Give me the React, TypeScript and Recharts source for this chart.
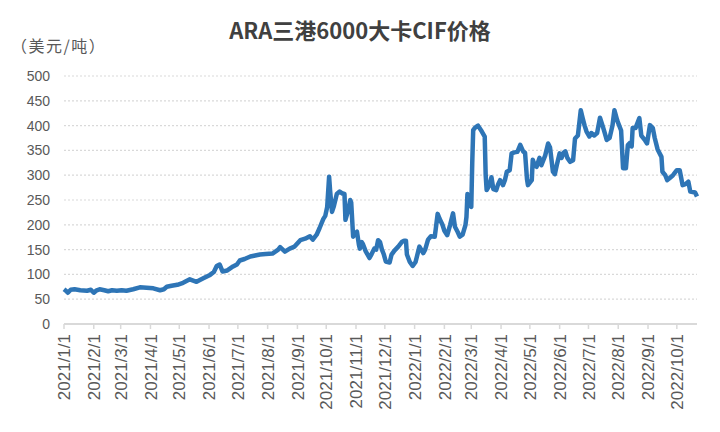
import React from 'react';
import { LineChart, Line, XAxis, YAxis, CartesianGrid } from 'recharts';

const dates = [
  '2021-01-01','2021-01-03','2021-01-05','2021-01-08','2021-01-12','2021-01-18','2021-01-25','2021-01-29',
  '2021-02-01','2021-02-04','2021-02-07','2021-02-12','2021-02-16','2021-02-20','2021-02-25',
  '2021-03-02','2021-03-07','2021-03-14','2021-03-21','2021-03-28',
  '2021-04-04','2021-04-11','2021-04-15','2021-04-18','2021-04-23','2021-04-29',
  '2021-05-05','2021-05-12','2021-05-19','2021-05-26',
  '2021-06-02','2021-06-06','2021-06-09','2021-06-12','2021-06-15','2021-06-20','2021-06-26','2021-06-30',
  '2021-07-03','2021-07-08','2021-07-14','2021-07-19','2021-07-24','2021-07-30',
  '2021-08-06','2021-08-12','2021-08-14','2021-08-19','2021-08-24','2021-08-29',
  '2021-09-04','2021-09-09','2021-09-14','2021-09-17','2021-09-21','2021-09-24','2021-09-28','2021-09-30',
  '2021-10-02','2021-10-04','2021-10-05','2021-10-07','2021-10-09','2021-10-12','2021-10-15','2021-10-18',
  '2021-10-20','2021-10-21','2021-10-24','2021-10-26','2021-10-27','2021-10-29','2021-10-31',
  '2021-11-02','2021-11-04','2021-11-05','2021-11-07','2021-11-08','2021-11-11','2021-11-15','2021-11-17',
  '2021-11-20','2021-11-22','2021-11-24','2021-11-26','2021-11-28','2021-11-30',
  '2021-12-02','2021-12-06','2021-12-08','2021-12-11','2021-12-15','2021-12-19','2021-12-21','2021-12-23',
  '2021-12-24','2021-12-27','2021-12-30',
  '2022-01-02','2022-01-06','2022-01-10','2022-01-12','2022-01-15','2022-01-18','2022-01-22','2022-01-25',
  '2022-01-27','2022-01-30',
  '2022-02-01','2022-02-04','2022-02-07','2022-02-10','2022-02-12','2022-02-15','2022-02-17','2022-02-20',
  '2022-02-23','2022-02-24','2022-02-25','2022-02-27',
  '2022-03-01','2022-03-02','2022-03-03','2022-03-05','2022-03-08','2022-03-12','2022-03-15','2022-03-16',
  '2022-03-17','2022-03-20','2022-03-22','2022-03-24','2022-03-27','2022-03-29','2022-03-31',
  '2022-04-03','2022-04-05','2022-04-07','2022-04-10','2022-04-12','2022-04-15','2022-04-18','2022-04-21',
  '2022-04-24','2022-04-26','2022-04-28','2022-04-29',
  '2022-05-01','2022-05-03','2022-05-04','2022-05-06','2022-05-08','2022-05-11','2022-05-13','2022-05-17',
  '2022-05-20','2022-05-22','2022-05-25','2022-05-27','2022-05-29',
  '2022-06-01','2022-06-03','2022-06-05','2022-06-07','2022-06-09','2022-06-12','2022-06-15','2022-06-17',
  '2022-06-20','2022-06-23','2022-06-25','2022-06-27','2022-06-29',
  '2022-07-02','2022-07-04','2022-07-07','2022-07-10','2022-07-13','2022-07-16','2022-07-18','2022-07-20',
  '2022-07-23','2022-07-26','2022-07-28','2022-07-31',
  '2022-08-04','2022-08-06','2022-08-09','2022-08-11','2022-08-13','2022-08-15','2022-08-16','2022-08-19',
  '2022-08-23','2022-08-25','2022-08-29','2022-08-31',
  '2022-09-03','2022-09-06','2022-09-08','2022-09-11','2022-09-15','2022-09-16','2022-09-19','2022-09-21',
  '2022-09-24','2022-09-27',
  '2022-10-01','2022-10-04','2022-10-07','2022-10-10','2022-10-13','2022-10-15','2022-10-20','2022-10-22',
];

const prices = [
  70,67,63,69,70,68,67,69,
  63,68,70,68,66,68,67,
  68,67,70,74,73,
  72,68,70,75,77,79,
  83,90,85,92,
  99,105,117,120,106,108,116,120,
  128,131,136,138,140,141,
  142,150,155,146,152,156,
  169,172,177,170,180,193,212,218,
  236,297,270,226,238,262,267,263,
  262,210,230,250,245,176,183,
  186,160,152,165,162,147,133,140,
  152,150,169,165,150,140,
  126,124,140,148,156,166,168,168,
  140,125,117,
  125,156,143,150,170,177,176,222,
  212,200,
  188,179,200,223,196,185,176,180,
  200,216,262,240,
  236,324,391,396,400,388,378,300,
  270,280,296,272,270,282,290,
  280,290,307,310,344,346,347,361,
  348,345,292,280,
  285,290,331,320,317,335,320,340,
  364,356,307,302,320,
  344,335,345,348,335,327,330,374,
  380,431,415,400,388,
  378,385,380,385,416,398,385,371,
  375,400,431,410,
  390,314,314,361,365,358,395,395,
  415,380,370,364,
  401,395,375,352,337,307,300,290,
  295,300,
  310,310,280,282,287,267,265,257,
];

const monthTicks = [
  '2021/1/1','2021/2/1','2021/3/1','2021/4/1','2021/5/1','2021/6/1','2021/7/1','2021/8/1',
  '2021/9/1','2021/10/1','2021/11/1','2021/12/1','2022/1/1','2022/2/1','2022/3/1','2022/4/1',
  '2022/5/1','2022/6/1','2022/7/1','2022/8/1','2022/9/1','2022/10/1',
];

const yTicks = [0, 50, 100, 150, 200, 250, 300, 350, 400, 450, 500];

const title = 'ARA三港6000大卡CIF价格';
const unitLabel = '（美元/吨）';

const dayNum = (s: string, sep: string) => {
  const [y, m, d] = s.split(sep).map(Number);
  return (Date.UTC(y, m - 1, d) - Date.UTC(2021, 0, 1)) / 86400000;
};

const data = dates.map((d, i) => ({ day: dayNum(d, '-'), price: prices[i] }));
const tickDays = monthTicks.map((t) => dayNum(t, '/'));
const labelByDay: Record<number, string> = {};
monthTicks.forEach((t, i) => { labelByDay[tickDays[i]] = t; });
const lastDay = data[data.length - 1].day;

const FONT = '"Liberation Sans", Arial, "Noto Sans CJK SC", sans-serif';

const XTick = (props: any) => {
  const { x, y, payload } = props;
  return (
    <g transform={`translate(${x},${y + 1}) rotate(-90)`}>
      <text x={0} y={0} dy="0.36em" textAnchor="end" fill="#595959" fontSize={17} fontFamily={FONT}>
        {labelByDay[payload.value]}
      </text>
    </g>
  );
};

export default function App() {
  return (
    <div style={{ position: 'absolute', left: 0, top: 0, width: 720, height: 432, background: '#fff' }}>
      <div style={{ position: 'absolute', left: 0, top: 13, width: 720, textAlign: 'center', fontFamily: '"Noto Sans CJK SC", sans-serif', fontWeight: 700, fontSize: 22, color: '#404040', lineHeight: '32px' }}>
        {title}
      </div>
      <div style={{ position: 'absolute', left: 11, top: 34, fontFamily: '"Noto Sans CJK SC", sans-serif', fontSize: 16, letterSpacing: 1.5, color: '#595959', lineHeight: '22px' }}>
        {unitLabel}
      </div>
      <LineChart width={720} height={432} data={data} margin={{ top: 76, right: 23, left: 0, bottom: 0 }}>
        <CartesianGrid vertical={false} stroke="#d9d9d9" strokeDasharray="2 2" strokeWidth={1.2} />
        <XAxis
          dataKey="day"
          type="number"
          domain={[0, lastDay]}
          ticks={tickDays}
          interval={0}
          height={108}
          axisLine={{ stroke: '#d9d9d9', strokeWidth: 2 }}
          tickLine={{ stroke: '#d9d9d9', strokeWidth: 1.5 }}
          tickSize={5}
          tickMargin={4}
          tick={<XTick />}
        />
        <YAxis
          type="number"
          domain={[0, 500]}
          ticks={yTicks}
          interval={0}
          width={64}
          axisLine={false}
          tickLine={false}
          tickSize={0}
          tickMargin={14}
          tick={{ fill: '#595959', fontSize: 14, fontFamily: FONT }}
        />
        <Line
          type="linear"
          dataKey="price"
          stroke="#2e75b6"
          strokeWidth={4.5}
          strokeLinejoin="round"
          dot={false}
          isAnimationActive={false}
        />
      </LineChart>
    </div>
  );
}
